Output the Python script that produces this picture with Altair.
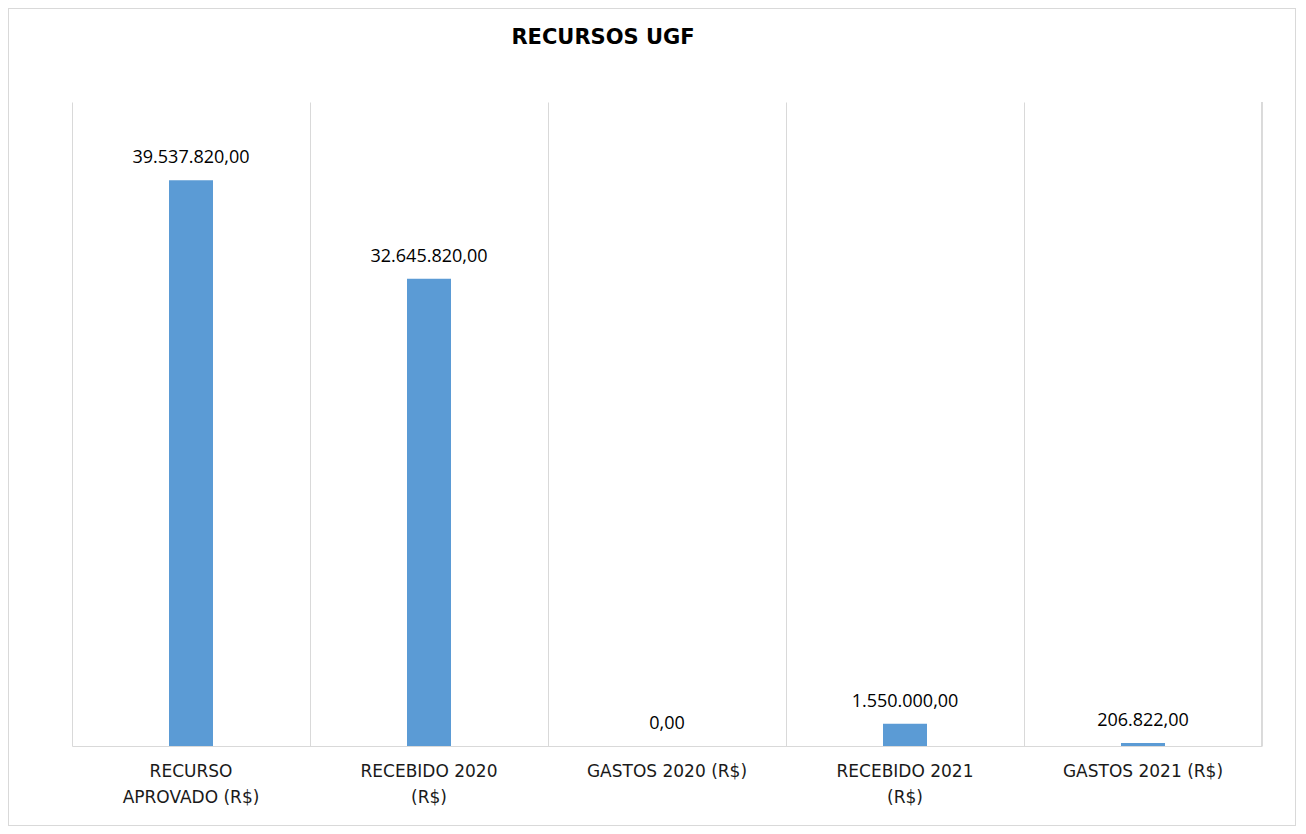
import altair as alt
import pandas as pd

categories = ["RECURSO APROVADO (R$)", "RECEBIDO 2020 (R$)", "GASTOS 2020 (R$)",
              "RECEBIDO 2021 (R$)", "GASTOS 2021 (R$)"]
label_lines = [["RECURSO", "APROVADO (R$)"], ["RECEBIDO 2020", "(R$)"], ["GASTOS 2020 (R$)"],
               ["RECEBIDO 2021", "(R$)"], ["GASTOS 2021 (R$)"]]
values = [39537820.00, 32645820.00, 0.00, 1550000.00, 206822.00]
title_text = "RECURSOS  UGF"


def br(v):
    s = f"{v:,.2f}"
    return s.replace(",", "#").replace(".", ",").replace("#", ".")


df = pd.DataFrame({"cat": categories, "value": values, "label": [br(v) for v in values]})
title_df = pd.DataFrame({"t": [title_text]})

W, H = 1190, 644

expr_parts = []
for c, lines in zip(categories, label_lines):
    arr = "[" + ",".join("'" + l + "'" for l in lines) + "]"
    expr_parts.append(f"datum.label == '{c}' ? {arr}")
label_expr = " : ".join(expr_parts) + " : datum.label"

x_enc = alt.X("cat:N", sort=categories, title=None,
              scale=alt.Scale(paddingInner=0, paddingOuter=0),
              axis=alt.Axis(labelAngle=0, labelExpr=label_expr, grid=True, bandPosition=0,
                            gridColor="#d9d9d9", domainColor="#d9d9d9", ticks=False,
                            labelPadding=17, labelFontSize=17, labelFont="DejaVu Sans",
                            labelColor="#1a1a1a", labelLineHeight=26, labelLimit=0,
                            labelBaseline="top"))
y_enc = alt.Y("value:Q", scale=alt.Scale(domain=[0, 45000000]), axis=None)

base = alt.Chart(df)
bars = base.mark_bar(width=44, color="#5B9BD5").encode(x=x_enc, y=y_enc)
text = base.mark_text(dy=-17, baseline="alphabetic", fontSize=18, font="Open Sans",
                      color="#000000").encode(x=x_enc, y=y_enc, text="label:N")
right_edge = base.mark_rule(color="#d9d9d9").encode(
    x=alt.value(W), y=alt.value(0), y2=alt.value(H))
frame = base.mark_rect(fill=None, stroke="#d9d9d9", strokeWidth=1).encode(
    x=alt.value(-63.5), x2=alt.value(W + 33.5), y=alt.value(-93.5), y2=alt.value(H + 79.5))
title = alt.Chart(title_df).mark_text(font="DejaVu Sans", fontSize=21, fontWeight="bold",
                                      color="#000000", align="center", baseline="middle").encode(
    x=alt.value(W / 2 - 64), y=alt.value(-64), text="t:N")

chart = alt.layer(frame, right_edge, bars, text, title).properties(
    width=W, height=H,
    padding={"left": 64, "top": 94, "right": 36, "bottom": 82},
    autosize=alt.AutoSizeParams(type="none"),
).configure_view(stroke=None)

chart.save("out.html", embed_options={"renderer": "svg", "actions": False})
